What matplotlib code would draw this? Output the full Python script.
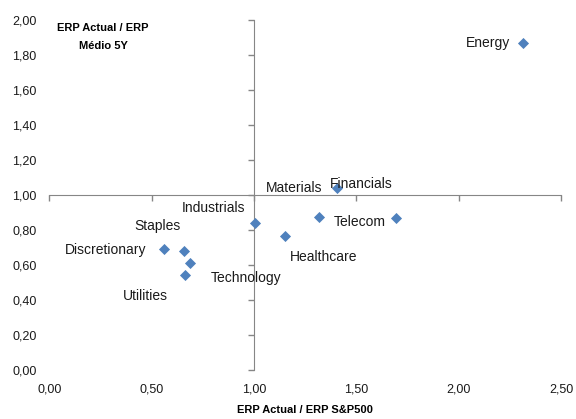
import matplotlib.pyplot as plt

# sectors: ERP actual / ERP S&P500 (x) vs ERP actual / ERP 5y average (y)
sectors = ['Energy', 'Materials', 'Financials', 'Telecom', 'Industrials',
           'Healthcare', 'Discretionary', 'Staples', 'Technology', 'Utilities']
erp_vs_spx = [2.316, 1.319, 1.404, 1.694, 1.006, 1.153, 0.559, 0.660, 0.686, 0.664]
erp_vs_5y = [1.870, 0.871, 1.040, 0.865, 0.840, 0.764, 0.688, 0.676, 0.611, 0.542]

x_ticks = [0, 0.5, 1.0, 1.5, 2.0, 2.5]
y_ticks = [0, 0.2, 0.4, 0.6, 0.8, 1.0, 1.2, 1.4, 1.6, 1.8, 2.0]

# label offsets in pixels (manually placed like the excel chart)
label_offsets = [(-35, 0), (-25, 29), (25, 4), (-36, -4), (-42, 15),
                 (38, -21), (-58, -1), (-27, 25), (56, -15), (-40, -21)]

plt.rcParams['font.family'] = ['Liberation Sans', 'DejaVu Sans']

fig = plt.figure(figsize=(5.76, 4.19), dpi=100)
ax = fig.add_axes([0.0856, 0.1181, 0.8884, 0.8342])

axis_color = '#868686'

ax.scatter(erp_vs_spx, erp_vs_5y, marker='D', s=32, color='#4F81BD', zorder=3, linewidths=0)

for name, x, y, off in zip(sectors, erp_vs_spx, erp_vs_5y, label_offsets):
    ax.annotate(name, (x, y), xytext=off, textcoords='offset pixels',
                ha='center', va='center', fontsize=10, color='#1a1a1a')

ax.set_xlim(0, 2.5)
ax.set_ylim(0, 2.0)

# axes crossing at (1, 1)
for s in ['top', 'right']:
    ax.spines[s].set_visible(False)
ax.spines['left'].set_position(('data', 1.0))
ax.spines['bottom'].set_position(('data', 1.0))
ax.spines['left'].set_color(axis_color)
ax.spines['bottom'].set_color(axis_color)
ax.set_xticks(x_ticks)
ax.set_yticks(y_ticks)
ax.tick_params(direction='out', length=4, width=1, color=axis_color,
               labelbottom=False, labelleft=False)

# tick labels sit at the outer edges
secx = ax.secondary_xaxis('bottom')
secx.set_xticks(x_ticks)
secx.set_xticklabels([f'{v:.2f}'.replace('.', ',') for v in x_ticks])
secx.spines['bottom'].set_visible(False)
secx.tick_params(length=0, pad=10, labelsize=9, labelcolor='#1a1a1a')

secy = ax.secondary_yaxis('left')
secy.set_yticks(y_ticks)
secy.set_yticklabels([f'{v:.2f}'.replace('.', ',') for v in y_ticks])
secy.spines['left'].set_visible(False)
secy.tick_params(length=0, pad=9, labelsize=9, labelcolor='#1a1a1a')

secx.set_xlabel('ERP Actual / ERP S&P500', fontsize=8, fontweight='bold', labelpad=7)
ax.text(0.105, 0.99, 'ERP Actual / ERP\nMédio 5Y', transform=ax.transAxes,
        ha='center', va='top', fontsize=8, fontweight='bold', linespacing=1.9)

fig.savefig('out.png', dpi=100)
